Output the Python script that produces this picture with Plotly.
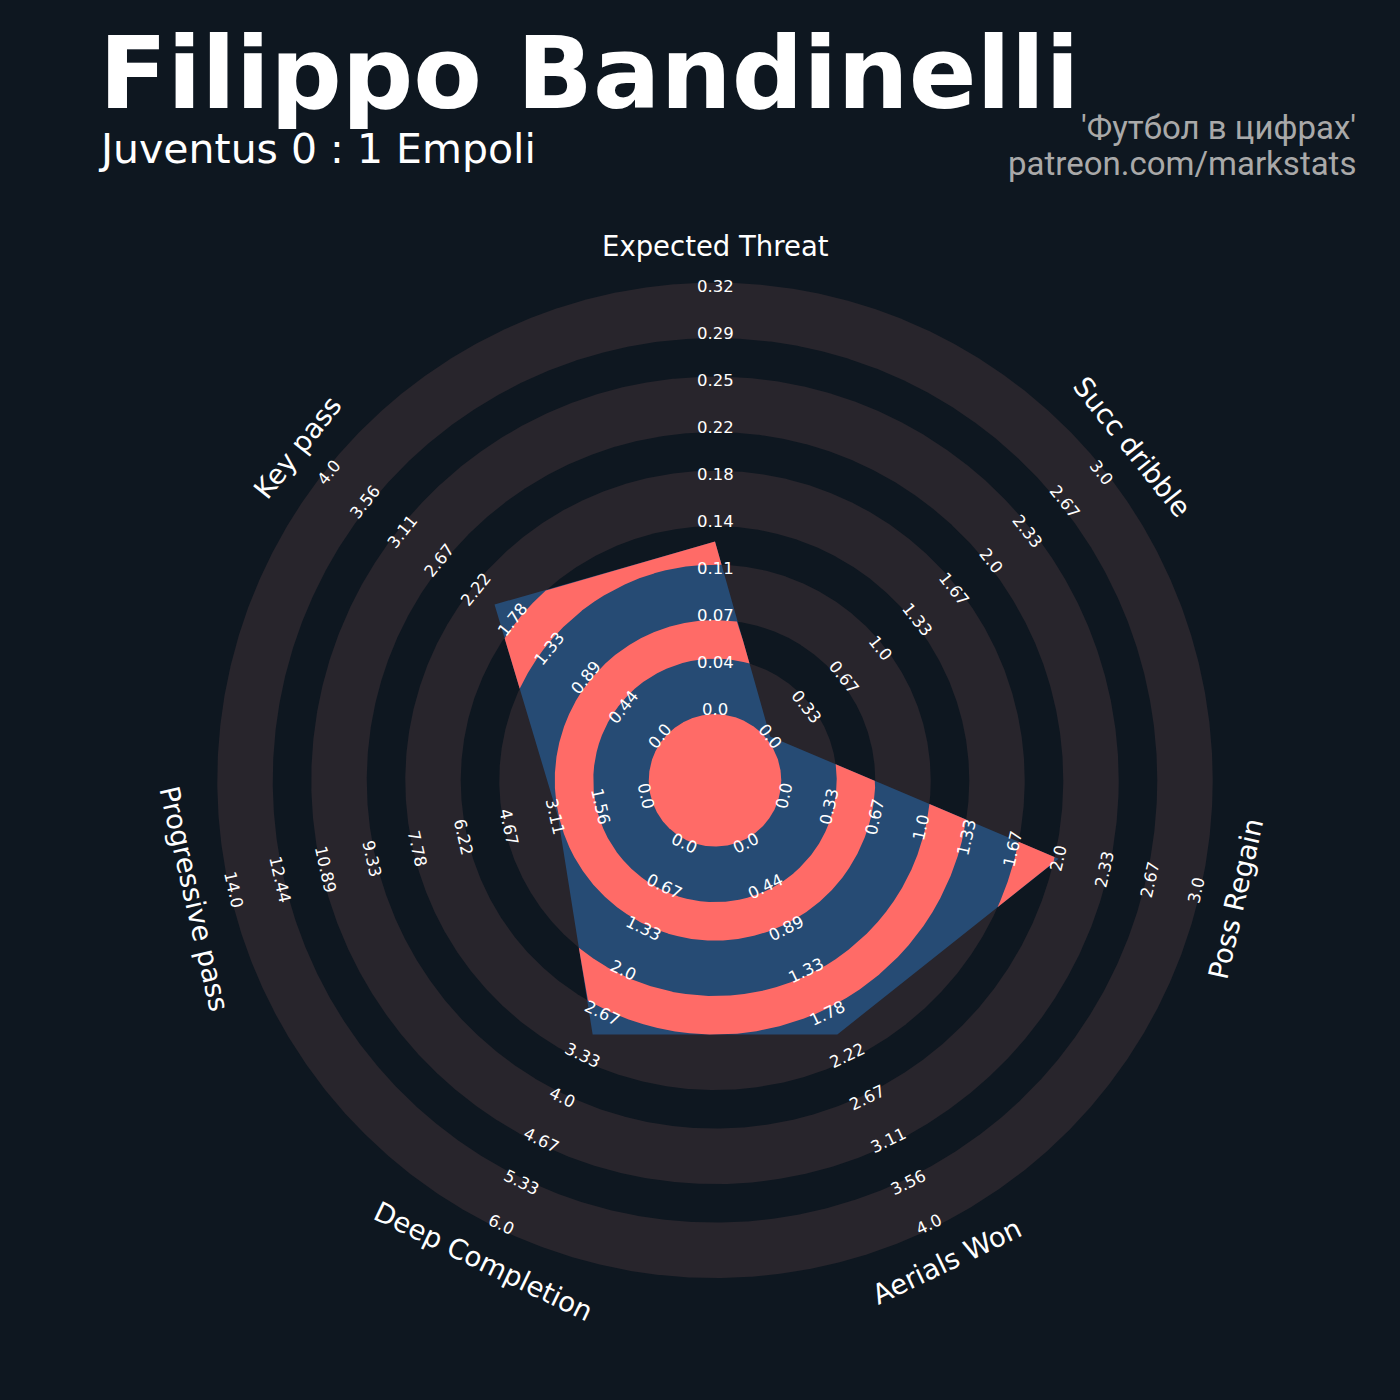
import numpy as np
import plotly.graph_objects as go

# ---------------- data ----------------
params = ["Expected Threat", "Succ dribble", "Poss Regain", "Aerials Won",
          "Deep Completion", "Progressive pass", "Key pass"]
low = [0.0, 0.0, 0.0, 0.0, 0.0, 0.0, 0.0]
high = [0.324, 3.0, 3.0, 4.0, 6.0, 14.0, 4.0]
values = [0.129, 0.0, 2.0, 2.0, 3.0, 3.0, 2.0]

title_text = "Filippo Bandinelli"
subtitle_text = "Juventus 0 : 1 Empoli"
credit_line1 = "'Футбол в цифрах'"
credit_line2 = "patreon.com/markstats"

# ---------------- style ----------------
BG = "#0E1720"
RING = "#28252C"
RADAR = "#264B74"
RADAR_RING = "#FF6B67"
TXT = "#FFFFFF"
CREDIT = "#A9A9A9"
FONT = "DejaVu Sans"

N_LABELS = 10
CENTER_R = 1.5
MAX_R = CENTER_R + N_LABELS - 1          # 10.5
band_edges = [10.59, 9.41, 8.59, 7.41, 6.59, 5.41, 4.59, 3.41, 2.59, 1.41]
PARAM_R = 11.36

PX = 47.0                                # pixels per radial unit
CX, CY = 715.0, 780.35                   # centre in pixels
W = H = 1400

n = len(params)
angles = np.deg2rad(90 - np.arange(n) * 360.0 / n)


def to_radius(v, lo, hi):
    return CENTER_R + (v - lo) / (hi - lo) * (MAX_R - CENTER_R)


vr = np.array([to_radius(v, lo, hi) for v, lo, hi in zip(values, low, high)])
vx = vr * np.cos(angles)
vy = vr * np.sin(angles)


def poly_radius(theta):
    dx, dy = np.cos(theta), np.sin(theta)
    R = np.full(theta.shape, np.inf)
    with np.errstate(divide="ignore", invalid="ignore"):
        for i in range(n):
            ax_, ay_ = vx[i], vy[i]
            bx_, by_ = vx[(i + 1) % n], vy[(i + 1) % n]
            ex, ey = bx_ - ax_, by_ - ay_
            det = -dx * ey + ex * dy
            t = (-ax_ * ey + ex * ay_) / det
            s = (dx * ay_ - dy * ax_) / det
            ok = (s >= -1e-9) & (s <= 1 + 1e-9) & (t > 0) & np.isfinite(t)
            R = np.where(ok, np.minimum(R, t), R)
    return R


# sample angles starting at the smallest-radius vertex so clipped runs never wrap
start = angles[int(np.argmin(vr))]
theta = start + np.linspace(0, 2 * np.pi, 14401)
extra = start + np.mod(angles - start, 2 * np.pi)
theta = np.sort(np.concatenate([theta, extra]))
Rpoly = poly_radius(theta)
circle = np.linspace(0, 2 * np.pi, 1441)

fig = go.Figure()


def add_fill(x, y, col):
    fig.add_trace(go.Scatter(x=x, y=y, mode="lines", fill="toself", fillcolor=col,
                             line=dict(width=0, color=col), hoverinfo="skip",
                             showlegend=False))


# background rings (outside the radar)
for k, b in enumerate(band_edges):
    add_fill(b * np.cos(circle), b * np.sin(circle), RING if k % 2 == 0 else BG)

# radar polygon
add_fill(np.append(vx, vx[0]), np.append(vy, vy[0]), RADAR)

# rings inside the radar (clipped to the polygon)
red_bands = [(band_edges[k + 1], band_edges[k]) for k in range(1, len(band_edges) - 1, 2)]
for b_in, b_out in red_bands:
    mask = Rpoly > b_in
    xs, ys = [], []
    idx = np.where(mask)[0]
    if len(idx) == 0:
        continue
    runs = np.split(idx, np.where(np.diff(idx) > 1)[0] + 1)
    for run in runs:
        i0, i1 = run[0], run[-1]
        th = list(theta[run])
        rr = list(np.minimum(b_out, Rpoly[run]))
        if i0 > 0:
            f = (b_in - Rpoly[i0 - 1]) / (Rpoly[i0] - Rpoly[i0 - 1])
            th = [theta[i0 - 1] + f * (theta[i0] - theta[i0 - 1])] + th
            rr = [b_in] + rr
        if i1 < len(theta) - 1:
            f = (b_in - Rpoly[i1 + 1]) / (Rpoly[i1] - Rpoly[i1 + 1])
            th = th + [theta[i1 + 1] + f * (theta[i1] - theta[i1 + 1])]
            rr = rr + [b_in]
        th = np.array(th)
        rr = np.array(rr)
        th_in = th[::-1]
        px_ = np.concatenate([rr * np.cos(th), b_in * np.cos(th_in)])
        py_ = np.concatenate([rr * np.sin(th), b_in * np.sin(th_in)])
        xs += list(px_) + [None]
        ys += list(py_) + [None]
    add_fill(xs, ys, RADAR_RING)

# centre circle
add_fill(band_edges[-1] * np.cos(circle), band_edges[-1] * np.sin(circle), RADAR_RING)

annotations = []


def rotation(a_deg):
    a = (a_deg + 180) % 360 - 180
    if abs(a - 90) < 1e-6:
        return 0.0
    if np.sin(np.deg2rad(a)) < 0:
        return a + 90
    return a - 90


for i in range(n):
    a_deg = np.rad2deg(angles[i])
    rot = rotation(a_deg)
    labels = np.linspace(low[i], high[i], N_LABELS)
    for k, lv in enumerate(labels):
        r = CENTER_R + k
        annotations.append(dict(x=r * np.cos(angles[i]), y=r * np.sin(angles[i]),
                                xref="x", yref="y", text=str(round(float(lv), 2)),
                                showarrow=False, textangle=-rot,
                                font=dict(family=FONT, size=16.5, color=TXT)))
    annotations.append(dict(x=PARAM_R * np.cos(angles[i]), y=PARAM_R * np.sin(angles[i]),
                            xref="x", yref="y", text=params[i], showarrow=False,
                            textangle=-rot,
                            font=dict(family=FONT, size=27.5, color=TXT)))

annotations += [
    dict(x=97 / W, y=1 - 73 / H, xref="paper", yref="paper", text="<b>" + title_text + "</b>",
         showarrow=False, xanchor="left", yanchor="middle",
         font=dict(family=FONT, size=100, color=TXT)),
    dict(x=96 / W, y=1 - 149 / H, xref="paper", yref="paper", text=subtitle_text,
         showarrow=False, xanchor="left", yanchor="middle",
         font=dict(family=FONT, size=41, color=TXT)),
    dict(x=1358 / W, y=1 - 127 / H, xref="paper", yref="paper", text=credit_line1,
         showarrow=False, xanchor="right", yanchor="middle",
         font=dict(family="Roboto", size=33, color=CREDIT)),
    dict(x=1358 / W, y=1 - 163 / H, xref="paper", yref="paper", text=credit_line2,
         showarrow=False, xanchor="right", yanchor="middle",
         font=dict(family="Roboto", size=33, color=CREDIT)),
]

fig.update_layout(
    width=W, height=H,
    margin=dict(l=0, r=0, t=0, b=0),
    paper_bgcolor=BG, plot_bgcolor=BG,
    xaxis=dict(range=[-CX / PX, (W - CX) / PX], visible=False, fixedrange=True, domain=[0, 1]),
    yaxis=dict(range=[-(H - CY) / PX, CY / PX], visible=False, fixedrange=True, domain=[0, 1]),
    annotations=annotations,
    showlegend=False,
)

fig.write_html("out.html", config={"displayModeBar": False},
               post_script="document.body.style.margin='0';"
                           "document.body.style.background='" + BG + "';")
